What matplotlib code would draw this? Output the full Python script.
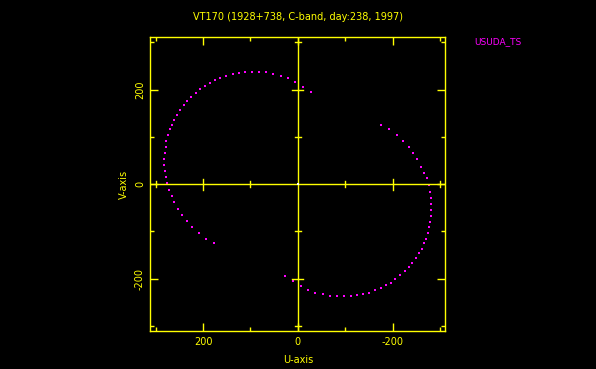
import numpy as np
import matplotlib.pyplot as plt

# Трек UV-покрытия (одна ветвь, вторая — зеркальная)
u_arc = [176, 192.8, 208.4, 222.4, 233.8, 243.5, 252, 260.4, 266.1, 271.8,
         276, 278.8, 280.3, 281.5, 281.5, 280.3, 278.8, 277.3, 274.6, 270.3,
         266.1, 261.9, 254.9, 249.2, 240.8, 233.8, 225.3, 215.4, 205.5, 195.8,
         185.9, 174.7, 163.3, 150.6, 137.9, 124, 111.3, 97.1, 83, 67.6,
         52.2, 36.5, 21.1, 5.7, -11.2, -26.8]
v_arc = [-125.7, -115.8, -103.2, -90.5, -77.9, -65.3, -52.6, -37.3, -24.6, -12,
         2.1, 16, 28.6, 41.3, 53.9, 66.5, 79.2, 91.8, 103.2, 115.8,
         125.5, 136.8, 146.5, 156.4, 167.6, 176, 184.4, 192.8, 201.3, 208.4,
         213.9, 219.6, 223.8, 229.5, 233.7, 235, 236.4, 237.9, 237.9, 236.4,
         233.7, 229.5, 223.8, 215.4, 205.5, 194.3]

title = 'VT170 (1928+738, C-band, day:238, 1997)'
station = 'USUDA_TS'
major_ticks = [-200, 0, 200]
minor_ticks = [-300, -100, 100, 300]
lim = 311

yellow = '#ffff00'
magenta = '#ff00ff'

fig = plt.figure(figsize=(5.96, 3.69), dpi=100, facecolor='black')
ax = fig.add_axes([0.2525, 0.103, 0.4945, 0.796], facecolor='black')

u = np.array(u_arc)
v = np.array(v_arc)
ax.plot(u, v, 's', color=magenta, markersize=1.5, markeredgewidth=0)
ax.plot(-u, -v, 's', color=magenta, markersize=1.5, markeredgewidth=0)

# оси через ноль
ax.axhline(0, color=yellow, lw=1)
ax.axvline(0, color=yellow, lw=1)
for t in major_ticks + minor_ticks:
    if t == 0:
        continue
    h = 11.5 if t in major_ticks else 6.5
    ax.plot([t, t], [-h, h], color=yellow, lw=1)
    ax.plot([-h, h], [t, t], color=yellow, lw=1)
ax.plot([0], [0], 's', color='white', markersize=2, markeredgewidth=0)

ax.set_xlim(lim, -lim)
ax.set_ylim(-lim, lim)

for sp in ax.spines.values():
    sp.set_color(yellow)
    sp.set_linewidth(1)

ax.set_xticks(major_ticks)
ax.set_yticks(major_ticks)
ax.set_xticks(minor_ticks, minor=True)
ax.set_yticks(minor_ticks, minor=True)
ax.set_xticklabels(['-200', '0', '200'])
ax.set_yticklabels(['-200', '0', '200'], rotation=90, va='center')
ax.tick_params(which='both', direction='in', top=True, right=True,
               color=yellow, labelcolor=yellow, labelsize=7, width=1)
ax.tick_params(which='major', length=5.5, pad=4)
ax.tick_params(which='minor', length=3)

ax.set_xlabel('U-axis', color=yellow, fontsize=7, labelpad=6)
ax.set_ylabel('V-axis', color=yellow, fontsize=7, labelpad=4)
fig.text(0.5, 0.953, title, color=yellow, fontsize=7, ha='center', va='center')
fig.text(0.795, 0.886, station, color=magenta, fontsize=6.5, ha='left', va='center')

fig.savefig('out.png', dpi=100, facecolor='black')
